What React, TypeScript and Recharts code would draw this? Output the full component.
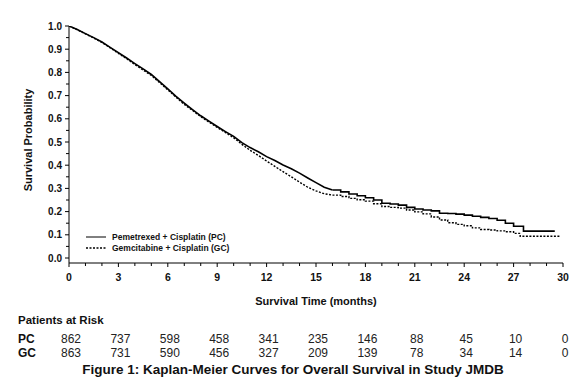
import React from 'react';
import { LineChart, Line, XAxis, YAxis } from 'recharts';

const monthTicks = [0, 3, 6, 9, 12, 15, 18, 21, 24, 27, 30];
const minorMonthTicks = Array.from({ length: 31 }, (_, i) => i);
const probTicks = Array.from({ length: 21 }, (_, i) => i * 0.05);

const pcAtRisk = [862, 737, 598, 458, 341, 235, 146, 88, 45, 10, 0];
const gcAtRisk = [863, 731, 590, 456, 327, 209, 139, 78, 34, 14, 0];

const riskTable = monthTicks.map((t, i) => ({ t, pc: pcAtRisk[i], gc: gcAtRisk[i] }));

// Pemetrexed + Cisplatin (PC): early smooth part and late step part
const pcEarly = [
  { t: 0, s: 1.0 }, { t: 0.5, s: 0.985 }, { t: 1, s: 0.967 }, { t: 1.5, s: 0.95 },
  { t: 2, s: 0.931 }, { t: 2.5, s: 0.908 }, { t: 3, s: 0.885 }, { t: 3.5, s: 0.862 },
  { t: 4, s: 0.838 }, { t: 4.5, s: 0.815 }, { t: 5, s: 0.791 }, { t: 5.5, s: 0.76 },
  { t: 6, s: 0.729 }, { t: 6.5, s: 0.697 }, { t: 7, s: 0.668 }, { t: 7.5, s: 0.64 },
  { t: 8, s: 0.613 }, { t: 8.5, s: 0.59 }, { t: 9, s: 0.567 }, { t: 9.5, s: 0.545 },
  { t: 10, s: 0.524 }, { t: 10.5, s: 0.497 }, { t: 11, s: 0.476 }, { t: 11.5, s: 0.458 },
  { t: 12, s: 0.437 }, { t: 12.5, s: 0.42 }, { t: 13, s: 0.401 }, { t: 13.5, s: 0.385 },
  { t: 14, s: 0.366 }, { t: 14.5, s: 0.345 }, { t: 15, s: 0.325 }, { t: 15.5, s: 0.305 },
  { t: 16, s: 0.293 },
];
const pcLate = [
  { t: 16, s: 0.293 }, { t: 16.5, s: 0.285 }, { t: 17, s: 0.276 }, { t: 17.5, s: 0.268 },
  { t: 18, s: 0.26 }, { t: 18.5, s: 0.25 }, { t: 19, s: 0.236 }, { t: 19.5, s: 0.233 },
  { t: 20, s: 0.228 }, { t: 20.5, s: 0.218 }, { t: 21, s: 0.211 }, { t: 21.5, s: 0.207 },
  { t: 22, s: 0.203 }, { t: 22.5, s: 0.193 }, { t: 23, s: 0.192 }, { t: 23.5, s: 0.189 },
  { t: 24, s: 0.185 }, { t: 24.5, s: 0.18 }, { t: 25, s: 0.175 }, { t: 25.5, s: 0.17 },
  { t: 26, s: 0.163 }, { t: 26.5, s: 0.15 }, { t: 27, s: 0.137 }, { t: 27.6, s: 0.116 },
  { t: 29.5, s: 0.116 },
];

// Gemcitabine + Cisplatin (GC)
const gcEarly = [
  { t: 0, s: 1.0 }, { t: 0.5, s: 0.984 }, { t: 1, s: 0.966 }, { t: 1.5, s: 0.948 },
  { t: 2, s: 0.929 }, { t: 2.5, s: 0.906 }, { t: 3, s: 0.882 }, { t: 3.5, s: 0.859 },
  { t: 4, s: 0.834 }, { t: 4.5, s: 0.81 }, { t: 5, s: 0.787 }, { t: 5.5, s: 0.756 },
  { t: 6, s: 0.725 }, { t: 6.5, s: 0.693 }, { t: 7, s: 0.662 }, { t: 7.5, s: 0.636 },
  { t: 8, s: 0.609 }, { t: 8.5, s: 0.586 }, { t: 9, s: 0.563 }, { t: 9.5, s: 0.541 },
  { t: 10, s: 0.518 }, { t: 10.5, s: 0.49 }, { t: 11, s: 0.464 }, { t: 11.5, s: 0.442 },
  { t: 12, s: 0.418 }, { t: 12.5, s: 0.395 }, { t: 13, s: 0.372 }, { t: 13.5, s: 0.35 },
  { t: 14, s: 0.327 }, { t: 14.5, s: 0.305 }, { t: 15, s: 0.289 }, { t: 15.5, s: 0.277 },
  { t: 16, s: 0.271 },
];
const gcLate = [
  { t: 16, s: 0.271 }, { t: 16.5, s: 0.265 }, { t: 17, s: 0.257 }, { t: 17.5, s: 0.251 },
  { t: 18, s: 0.245 }, { t: 18.5, s: 0.234 }, { t: 19, s: 0.222 }, { t: 19.5, s: 0.218 },
  { t: 20, s: 0.215 }, { t: 20.5, s: 0.207 }, { t: 21, s: 0.199 }, { t: 21.5, s: 0.19 },
  { t: 22, s: 0.177 }, { t: 22.5, s: 0.164 }, { t: 23, s: 0.152 }, { t: 23.5, s: 0.145 },
  { t: 24, s: 0.139 }, { t: 24.5, s: 0.13 }, { t: 25, s: 0.123 }, { t: 25.5, s: 0.121 },
  { t: 26, s: 0.117 }, { t: 26.5, s: 0.113 }, { t: 27, s: 0.106 }, { t: 27.4, s: 0.094 },
  { t: 29.8, s: 0.094 },
];

const legendItems = [
  { label: 'Pemetrexed + Cisplatin (PC)', dash: undefined as string | undefined },
  { label: 'Gemcitabine + Cisplatin (GC)', dash: '2 1.5' },
];

const FONT = '"Liberation Sans", Arial, sans-serif';

const MonthTick = (props: any) => {
  const { x, y, payload } = props;
  const v = payload.value;
  const major = v % 3 === 0;
  return (
    <g>
      <line x1={x} y1={y} x2={x} y2={y + (major ? 4 : 3)} stroke="#000" strokeWidth={1} />
      {major && (
        <text x={x} y={y + 14} textAnchor="middle" dominantBaseline="central"
          fontFamily={FONT} fontSize={10.5} fontWeight="bold" fill="#111">
          {v}
        </text>
      )}
    </g>
  );
};

const makeRiskTick = (key: 'pc' | 'gc') => (props: any) => {
  const { x, y, payload } = props;
  const row = riskTable.find((r) => r.t === payload.value);
  return (
    <text x={x + 2} y={y + 4} textAnchor="middle" dominantBaseline="central"
      fontFamily={FONT} fontSize={12} fill="#222">
      {row ? row[key] : ''}
    </text>
  );
};
const PcTick = makeRiskTick('pc');
const GcTick = makeRiskTick('gc');

const ProbTick = (props: any) => {
  const { x, y, payload } = props;
  const v = payload.value;
  const major = Math.round(v * 100) % 10 === 0;
  return (
    <g>
      <line x1={x - (major ? 4 : 3)} y1={y} x2={x} y2={y} stroke="#000" strokeWidth={1} />
      {major && (
        <text x={x - 7} y={y} textAnchor="end" dominantBaseline="central"
          fontFamily={FONT} fontSize={10} fontWeight="bold" fill="#111">
          {v.toFixed(1)}
        </text>
      )}
    </g>
  );
};

export default function App() {
  return (
    <div style={{ position: 'absolute', left: 0, top: 0, width: 586, height: 381, background: '#fff', fontFamily: FONT }}>
      <LineChart width={586} height={381} data={riskTable} margin={{ top: 26, right: 23, left: 29, bottom: 18 }}>
        <XAxis xAxisId="a_main" type="number" dataKey="t" domain={[0, 30]} ticks={minorMonthTicks}
          interval={0} allowDataOverflow tickSize={0} tickMargin={0} tickLine={false}
          axisLine={{ stroke: '#000', strokeWidth: 1 }} tick={<MonthTick />} height={72} />
        <XAxis xAxisId="b_pc" type="number" dataKey="t" domain={[0, 30]} ticks={monthTicks} interval={0}
          allowDataOverflow tickSize={0} tickMargin={0} tickLine={false} axisLine={false}
          tick={<PcTick />} height={14} />
        <XAxis xAxisId="c_gc" type="number" dataKey="t" domain={[0, 30]} ticks={monthTicks} interval={0}
          allowDataOverflow tickSize={0} tickMargin={0} tickLine={false} axisLine={false}
          tick={<GcTick />} height={14} />
        <YAxis yAxisId="y" type="number" domain={[0, 1]} ticks={probTicks} interval={0}
          allowDataOverflow tickSize={0} tickMargin={0} tickLine={false} width={40}
          padding={{ top: 0, bottom: 5 }}
          axisLine={{ stroke: '#000', strokeWidth: 1 }} tick={<ProbTick />} />
        <Line xAxisId="a_main" yAxisId="y" data={pcEarly} dataKey="s" type="linear" stroke="#000"
          strokeWidth={1.6} dot={false} activeDot={false} isAnimationActive={false} legendType="none" />
        <Line xAxisId="a_main" yAxisId="y" data={pcLate} dataKey="s" type="stepAfter" stroke="#000"
          strokeWidth={1.6} dot={false} activeDot={false} isAnimationActive={false} legendType="none" />
        <Line xAxisId="a_main" yAxisId="y" data={gcEarly} dataKey="s" type="linear" stroke="#000"
          strokeWidth={1.4} strokeDasharray="2 1.5" dot={false} activeDot={false} isAnimationActive={false} legendType="none" />
        <Line xAxisId="a_main" yAxisId="y" data={gcLate} dataKey="s" type="stepAfter" stroke="#000"
          strokeWidth={1.4} strokeDasharray="2 1.5" dot={false} activeDot={false} isAnimationActive={false} legendType="none" />
      </LineChart>
      <div style={{ position: 'absolute', left: 0, top: 0, width: 586, height: 381, pointerEvents: 'none', color: '#111' }}>
        <div style={{ position: 'absolute', left: 84, top: 231, fontSize: 8.5, fontWeight: 'bold' }}>
          {legendItems.map((it) => (
            <div key={it.label} style={{ display: 'flex', alignItems: 'center', height: 11, whiteSpace: 'nowrap' }}>
              <svg width={24} height={6} style={{ marginRight: 4 }}>
                <line x1={2} y1={3} x2={22} y2={3} stroke="#000" strokeWidth={it.dash ? 1.4 : 1}
                  strokeDasharray={it.dash} />
              </svg>
              <span>{it.label}</span>
            </div>
          ))}
        </div>
        <div style={{ position: 'absolute', left: 28, top: 140, transform: 'translate(-50%, -50%) rotate(-90deg)', whiteSpace: 'nowrap', fontSize: 11, fontWeight: 'bold' }}>
          Survival Probability
        </div>
        <div style={{ position: 'absolute', left: 316, top: 301, transform: 'translate(-50%, -50%)', whiteSpace: 'nowrap', fontSize: 11, fontWeight: 'bold' }}>
          Survival Time (months)
        </div>
        <div style={{ position: 'absolute', left: 18, top: 320, transform: 'translateY(-50%)', whiteSpace: 'nowrap', fontSize: 11.5, fontWeight: 'bold' }}>
          Patients at Risk
        </div>
        <div style={{ position: 'absolute', left: 18, top: 339, transform: 'translateY(-50%)', fontSize: 12, fontWeight: 'bold' }}>PC</div>
        <div style={{ position: 'absolute', left: 18, top: 353, transform: 'translateY(-50%)', fontSize: 12, fontWeight: 'bold' }}>GC</div>
        <div style={{ position: 'absolute', left: 293, top: 369, transform: 'translate(-50%, -50%)', whiteSpace: 'nowrap', fontSize: 13.5, fontWeight: 'bold' }}>
          Figure 1: Kaplan-Meier Curves for Overall Survival in Study JMDB
        </div>
      </div>
    </div>
  );
}
